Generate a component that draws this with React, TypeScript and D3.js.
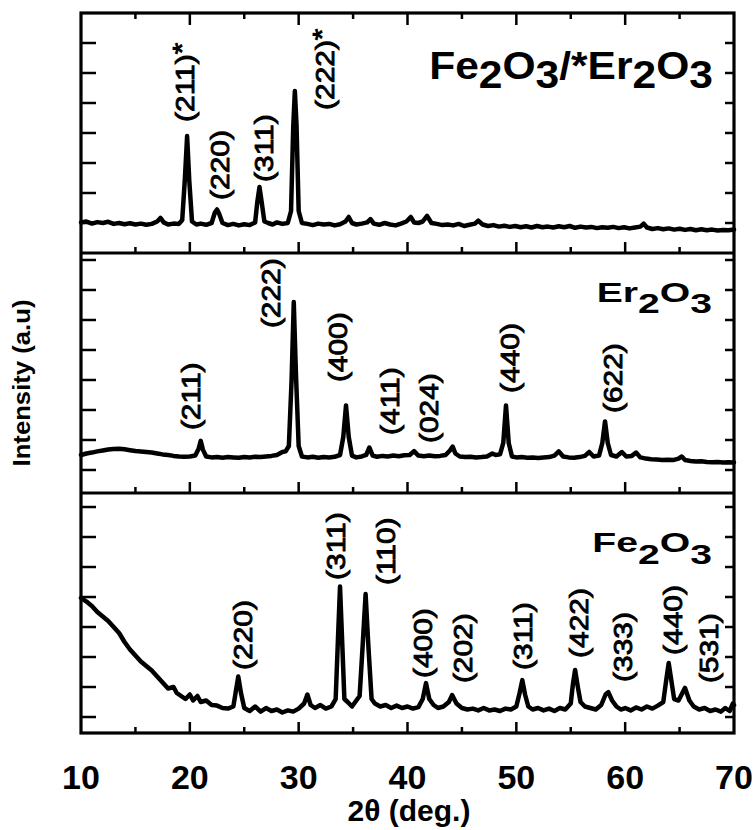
import React from 'react';
import * as d3 from 'd3';

// ---------- DATA ----------
// 2θ (deg) / intensity (a.u., panel units)
const compositePattern: [number, number][] = [
  [10, 1.02], [10.5, 1.05], [11, 0.98], [11.5, 1.03], [12, 1.0], [12.5, 1.04], [13, 0.97], [13.5, 1.0],
  [14, 0.96], [14.5, 0.99], [15, 0.95], [15.5, 0.98], [16, 0.94], [16.5, 0.97], [17.0, 1.05], [17.3, 1.17],
  [17.6, 1.02], [18, 0.95], [18.5, 0.98], [19.0, 0.97], [19.3, 1.1], [19.55, 2.5], [19.75, 3.9], [19.95, 2.4],
  [20.2, 1.05], [20.6, 0.95], [21, 0.98], [21.5, 0.94], [22.0, 1.0], [22.3, 1.35], [22.5, 1.45], [22.7, 1.3],
  [23.0, 1.0], [23.5, 0.93], [24, 0.97], [24.5, 0.92], [25, 0.96], [25.5, 0.93], [26.0, 1.02], [26.2, 1.7],
  [26.4, 2.2], [26.6, 1.7], [26.85, 1.05], [27.2, 1.0], [27.6, 0.95], [28, 1.02], [28.5, 0.97], [29.0, 1.0],
  [29.3, 1.4], [29.5, 4.2], [29.65, 5.4], [29.8, 4.3], [30.0, 1.4], [30.3, 1.0], [30.8, 0.97], [31.3, 0.93],
  [31.8, 0.98], [32.3, 0.95], [32.8, 0.97], [33.3, 0.92], [33.8, 0.96], [34.3, 1.05], [34.6, 1.2], [34.9, 1.0],
  [35.3, 0.95], [35.8, 0.98], [36.3, 1.02], [36.6, 1.13], [36.9, 0.98], [37.4, 0.94], [37.9, 1.0], [38.4, 0.95],
  [38.9, 0.92], [39.4, 0.98], [39.9, 1.05], [40.3, 1.2], [40.6, 1.02], [41.0, 1.0], [41.4, 1.05], [41.8, 1.24],
  [42.2, 1.0], [42.7, 0.97], [43.2, 0.93], [43.7, 0.95], [44.2, 0.92], [44.7, 0.97], [45.2, 0.9], [45.7, 0.94],
  [46.2, 0.98], [46.5, 1.08], [46.9, 0.95], [47.4, 0.9], [47.9, 0.93], [48.4, 0.88], [48.9, 0.91], [49.4, 0.87],
  [49.9, 0.9], [50.4, 0.86], [50.9, 0.89], [51.4, 0.85], [51.9, 0.9], [52.4, 0.86], [52.9, 0.88], [53.4, 0.85],
  [53.9, 0.89], [54.4, 0.86], [54.9, 0.9], [55.4, 0.84], [55.9, 0.88], [56.4, 0.85], [56.9, 0.87], [57.4, 0.83],
  [57.9, 0.86], [58.4, 0.84], [58.9, 0.87], [59.4, 0.83], [59.9, 0.86], [60.4, 0.82], [60.9, 0.85], [61.4, 0.88],
  [61.7, 0.98], [62.0, 0.85], [62.5, 0.8], [63, 0.83], [63.5, 0.79], [64, 0.82], [64.5, 0.78], [65, 0.81],
  [65.5, 0.77], [66, 0.8], [66.5, 0.76], [67, 0.79], [67.5, 0.76], [68, 0.78], [68.5, 0.75], [69, 0.77],
  [69.5, 0.76], [70, 0.78],
];

const er2o3Pattern: [number, number][] = [
  [10, 0.5], [10.5, 0.55], [11, 0.58], [11.5, 0.62], [12, 0.65], [12.5, 0.68], [13, 0.7], [13.5, 0.71],
  [14, 0.69], [14.5, 0.66], [15, 0.63], [15.5, 0.62], [16, 0.6], [16.5, 0.58], [17, 0.55], [17.5, 0.52],
  [18, 0.5], [18.5, 0.47], [19, 0.45], [19.5, 0.44], [20, 0.45], [20.5, 0.48], [20.8, 0.7], [21.0, 0.97],
  [21.2, 0.68], [21.5, 0.45], [22, 0.42], [22.5, 0.43], [23, 0.41], [23.5, 0.43], [24, 0.42], [24.5, 0.41],
  [25, 0.43], [25.5, 0.42], [26, 0.44], [26.5, 0.43], [27, 0.45], [27.5, 0.47], [28, 0.5], [28.5, 0.6],
  [28.8, 0.62], [29.1, 0.8], [29.35, 3.0], [29.55, 5.6], [29.75, 3.2], [30.0, 0.8], [30.3, 0.45], [30.8, 0.42],
  [31.3, 0.44], [31.8, 0.41], [32.3, 0.43], [32.8, 0.42], [33.3, 0.44], [33.8, 0.5], [34.1, 1.1], [34.35, 2.15],
  [34.6, 1.1], [34.9, 0.48], [35.3, 0.42], [35.8, 0.45], [36.2, 0.5], [36.5, 0.75], [36.8, 0.48], [37.2, 0.44],
  [37.7, 0.47], [38.2, 0.45], [38.7, 0.48], [39.2, 0.46], [39.7, 0.49], [40.2, 0.5], [40.6, 0.63], [41.0, 0.48],
  [41.5, 0.46], [42, 0.48], [42.5, 0.46], [43, 0.47], [43.5, 0.5], [43.9, 0.65], [44.15, 0.78], [44.4, 0.55],
  [44.8, 0.45], [45.3, 0.43], [45.8, 0.44], [46.3, 0.42], [46.8, 0.43], [47.3, 0.45], [47.8, 0.55], [48.1, 0.5],
  [48.5, 0.52], [48.8, 0.9], [49.05, 2.15], [49.3, 0.9], [49.6, 0.45], [50, 0.42], [50.5, 0.43], [51, 0.41],
  [51.5, 0.42], [52, 0.4], [52.5, 0.42], [53, 0.43], [53.5, 0.48], [53.9, 0.62], [54.3, 0.45], [54.8, 0.42],
  [55.3, 0.41], [55.8, 0.43], [56.3, 0.47], [56.7, 0.6], [57.1, 0.45], [57.6, 0.48], [57.9, 0.9], [58.15, 1.62],
  [58.4, 0.9], [58.7, 0.5], [59.2, 0.45], [59.7, 0.6], [60.1, 0.45], [60.6, 0.47], [61.0, 0.58], [61.4, 0.42],
  [61.9, 0.38], [62.4, 0.36], [62.9, 0.35], [63.4, 0.33], [63.9, 0.34], [64.4, 0.33], [64.9, 0.38], [65.2, 0.45],
  [65.5, 0.33], [66, 0.3], [66.5, 0.28], [67, 0.29], [67.5, 0.27], [68, 0.26], [68.5, 0.27], [69, 0.25],
  [69.5, 0.26], [70, 0.25],
];

const fe2o3Pattern: [number, number][] = [
  [10, 3.97], [10.5, 3.85], [11, 3.7], [11.5, 3.5], [12, 3.35], [12.5, 3.2], [13, 3.0], [13.5, 2.8],
  [14, 2.5], [14.5, 2.25], [15, 2.05], [15.5, 1.85], [16, 1.7], [16.5, 1.55], [17, 1.35], [17.5, 1.15],
  [18, 0.95], [18.5, 1.0], [18.8, 0.8], [19.2, 0.7], [19.6, 0.6], [20.0, 0.75], [20.3, 0.55], [20.7, 0.7],
  [21.0, 0.5], [21.5, 0.55], [22.0, 0.4], [22.5, 0.38], [23.0, 0.3], [23.5, 0.28], [24.0, 0.35], [24.2, 0.8],
  [24.45, 1.35], [24.7, 0.8], [25.0, 0.3], [25.5, 0.2], [26, 0.35], [26.5, 0.18], [27, 0.3], [27.5, 0.2],
  [28, 0.25], [28.5, 0.15], [29, 0.22], [29.5, 0.18], [30, 0.28], [30.5, 0.45], [30.8, 0.75], [31.1, 0.4],
  [31.5, 0.3], [32, 0.4], [32.5, 0.28], [33, 0.35], [33.4, 0.6], [33.6, 2.5], [33.8, 4.35], [34.0, 2.5],
  [34.2, 0.6], [34.5, 0.5], [34.9, 0.35], [35.3, 0.55], [35.6, 0.7], [35.9, 2.5], [36.15, 4.1], [36.4, 2.4],
  [36.7, 0.6], [37.0, 0.45], [37.5, 0.35], [38, 0.4], [38.5, 0.3], [39, 0.38], [39.5, 0.3], [40, 0.35],
  [40.5, 0.28], [41, 0.33], [41.4, 0.6], [41.7, 1.13], [42.0, 0.6], [42.4, 0.4], [42.8, 0.3], [43.3, 0.35],
  [43.8, 0.5], [44.1, 0.73], [44.5, 0.45], [45, 0.3], [45.5, 0.25], [46, 0.28], [46.5, 0.22], [47, 0.3],
  [47.5, 0.22], [48, 0.25], [48.5, 0.2], [49, 0.28], [49.5, 0.25], [50, 0.35], [50.3, 0.8], [50.55, 1.23],
  [50.8, 0.75], [51.1, 0.35], [51.5, 0.25], [52, 0.3], [52.5, 0.22], [53, 0.28], [53.5, 0.2], [54, 0.3],
  [54.5, 0.25], [55, 0.45], [55.2, 1.1], [55.4, 1.57], [55.65, 1.0], [55.9, 0.5], [56.3, 0.35], [56.8, 0.3],
  [57.3, 0.25], [57.8, 0.4], [58.2, 0.75], [58.45, 0.83], [58.8, 0.55], [59.2, 0.35], [59.6, 0.25], [60, 0.3],
  [60.5, 0.22], [61, 0.32], [61.5, 0.25], [62, 0.35], [62.5, 0.28], [63, 0.38], [63.5, 0.5], [63.8, 1.3],
  [64.0, 1.8], [64.25, 1.2], [64.5, 0.6], [64.9, 0.55], [65.5, 0.97], [65.9, 0.55], [66.3, 0.35], [66.8, 0.25],
  [67.3, 0.3], [67.8, 0.2], [68.3, 0.25], [68.8, 0.18], [69.2, 0.3], [69.6, 0.2], [69.9, 0.45], [70, 0.4],
];

// Peak labels: text, star (Er2O3 marker), anchor 2θ, anchor intensity
type PeakLabel = { text: string; star?: boolean; angle: number; level: number };
const compositeLabels: PeakLabel[] = [
  { text: '(211)', star: true, angle: 20.39, level: 4.37 },
  { text: '(220)', angle: 23.6, level: 1.77 },
  { text: '(311)', angle: 27.65, level: 2.37 },
  { text: '(222)', star: true, angle: 33.25, level: 4.77 },
];
const er2o3Labels: PeakLabel[] = [
  { text: '(211)', angle: 20.94, level: 1.33 },
  { text: '(222)', angle: 28.3, level: 4.73 },
  { text: '(400)', angle: 34.45, level: 2.93 },
  { text: '(411)', angle: 39.2, level: 1.17 },
  { text: '(024)', angle: 42.8, level: 0.9 },
  { text: '(440)', angle: 50.2, level: 2.57 },
  { text: '(622)', angle: 59.7, level: 1.9 },
];
const fe2o3Labels: PeakLabel[] = [
  { text: '(220)', angle: 25.7, level: 1.57 },
  { text: '(311)', angle: 34.26, level: 4.57 },
  { text: '(110)', angle: 38.86, level: 4.4 },
  { text: '(400)', angle: 42.26, level: 1.3 },
  { text: '(202)', angle: 45.94, level: 1.13 },
  { text: '(311)', angle: 51.45, level: 1.57 },
  { text: '(422)', angle: 56.6, level: 1.97 },
  { text: '(333)', angle: 60.64, level: 1.17 },
  { text: '(440)', angle: 65.24, level: 2.07 },
  { text: '(531)', angle: 68.55, level: 1.13 },
];

// Sample names as [text, isSubscript] segments
const compositeName: [string, boolean][] = [['Fe', false], ['2', true], ['O', false], ['3', true], ['/*Er', false], ['2', true], ['O', false], ['3', true]];
const er2o3Name: [string, boolean][] = [['Er', false], ['2', true], ['O', false], ['3', true]];
const fe2o3Name: [string, boolean][] = [['Fe', false], ['2', true], ['O', false], ['3', true]];

const xDomain: [number, number] = [10, 70];
const xMajorTicks = [10, 20, 30, 40, 50, 60, 70];
const xMinorTicks = [15, 25, 35, 45, 55, 65];
const yTicks = [0, 1, 2, 3, 4, 5, 6, 7];
const xTitle = '2θ (deg.)';
const yTitle = 'Intensity (a.u)';

// ---------- LAYOUT ----------
const W = 754;
const H = 830;
const left = 81;
const right = 734;
const top = 13;
const panelH = 240;
const FONT = "'Liberation Sans', Arial, Helvetica, sans-serif";

type Panel = {
  data: [number, number][];
  labels: PeakLabel[];
  name: [string, boolean][];
  domain: [number, number];
  title: { x: number; y: number; size: number; sx: number; sub: number };
};

const panels: Panel[] = [
  { data: compositePattern, labels: compositeLabels, name: compositeName, domain: [0, 8],
    title: { x: 713, y: 79, size: 38, sx: 1.12, sub: 9 } },
  { data: er2o3Pattern, labels: er2o3Labels, name: er2o3Name, domain: [-0.767, 7.233],
    title: { x: 712, y: 302, size: 27, sx: 1.45, sub: 11 } },
  { data: fe2o3Pattern, labels: fe2o3Labels, name: fe2o3Name, domain: [-0.533, 7.467],
    title: { x: 712, y: 552, size: 27, sx: 1.45, sub: 12 } },
];

export default function App() {
  const x = d3.scaleLinear().domain(xDomain).range([left, right]);
  const bottom = top + panelH * 3;

  return (
    <svg width={W} height={H} style={{ display: 'block', position: 'absolute', left: 0, top: 0, background: '#fff' }}>
      <rect x={0} y={0} width={W} height={H} fill="#fff" />
      {panels.map((p, i) => {
        const pTop = top + panelH * i;
        const pBot = pTop + panelH;
        const y = d3.scaleLinear().domain(p.domain).range([pBot, pTop]);
        const line = d3.line<[number, number]>().x((d) => x(d[0])).y((d) => y(d[1]));
        const ticksIn = yTicks.filter((t) => y(t) > pTop + 2 && y(t) < pBot - 2);
        return (
          <g key={i}>
            {ticksIn.map((t) => (
              <g key={t}>
                <line x1={left} x2={left + 15} y1={y(t)} y2={y(t)} stroke="#000" strokeWidth={2.5} />
                <line x1={right - 9} x2={right} y1={y(t)} y2={y(t)} stroke="#000" strokeWidth={2.5} />
              </g>
            ))}
            {xMajorTicks.slice(1, -1).map((t) => (
              <line key={'M' + t} x1={x(t)} x2={x(t)} y1={pBot} y2={pBot - 11} stroke="#000" strokeWidth={2.5} />
            ))}
            {xMinorTicks.map((t) => (
              <line key={'m' + t} x1={x(t)} x2={x(t)} y1={pBot} y2={pBot - 6} stroke="#000" strokeWidth={2.5} />
            ))}
            {i === 0 && xMajorTicks.slice(1, -1).map((t) => (
              <line key={'T' + t} x1={x(t)} x2={x(t)} y1={pTop} y2={pTop + 12} stroke="#000" strokeWidth={2.5} />
            ))}
            {i === 0 && xMinorTicks.map((t) => (
              <line key={'t' + t} x1={x(t)} x2={x(t)} y1={pTop} y2={pTop + 6} stroke="#000" strokeWidth={2.5} />
            ))}
            <path d={line(p.data) || ''} fill="none" stroke="#000" strokeWidth={4.5} strokeLinejoin="round" strokeLinecap="round" />
            {p.labels.map((l, j) => (
              <text key={j} transform={`translate(${x(l.angle)},${y(l.level)}) rotate(-90) scale(1.15,1)`}
                fontFamily={FONT} fontSize={26} fill="#000" stroke="#000" strokeWidth={0.9}>
                {l.text}
                {l.star ? <tspan dy={-3}>*</tspan> : null}
              </text>
            ))}
            <g transform={`translate(${p.title.x},${p.title.y}) scale(${p.title.sx},1)`}>
              <text textAnchor="end" fontFamily={FONT} fontWeight="bold" fontSize={p.title.size} fill="#000">
                {p.name.map(([s, sub], k) => {
                  const prevSub = k > 0 && p.name[k - 1][1];
                  const dy = sub ? p.title.sub : prevSub ? -p.title.sub : 0;
                  return <tspan key={k} dy={dy}>{s}</tspan>;
                })}
              </text>
            </g>
            {i < 2 && <line x1={left} x2={right} y1={pBot} y2={pBot} stroke="#000" strokeWidth={3} />}
          </g>
        );
      })}
      <rect x={left} y={top} width={right - left} height={bottom - top} fill="none" stroke="#000" strokeWidth={3.2} />
      {xMajorTicks.map((t) => (
        <text key={t} x={x(t)} y={789} textAnchor="middle" fontFamily={FONT} fontWeight="bold" fontSize={34} fill="#000">
          {t}
        </text>
      ))}
      <text x={409} y={821} textAnchor="middle" fontFamily={FONT} fontWeight="bold" fontSize={30} fill="#000">
        {xTitle}
      </text>
      <text transform={`translate(30,383) rotate(-90)`} textAnchor="middle" fontFamily={FONT} fontWeight="bold"
        fontSize={24} fill="#000" textLength={167} lengthAdjust="spacingAndGlyphs">
        {yTitle}
      </text>
    </svg>
  );
}
